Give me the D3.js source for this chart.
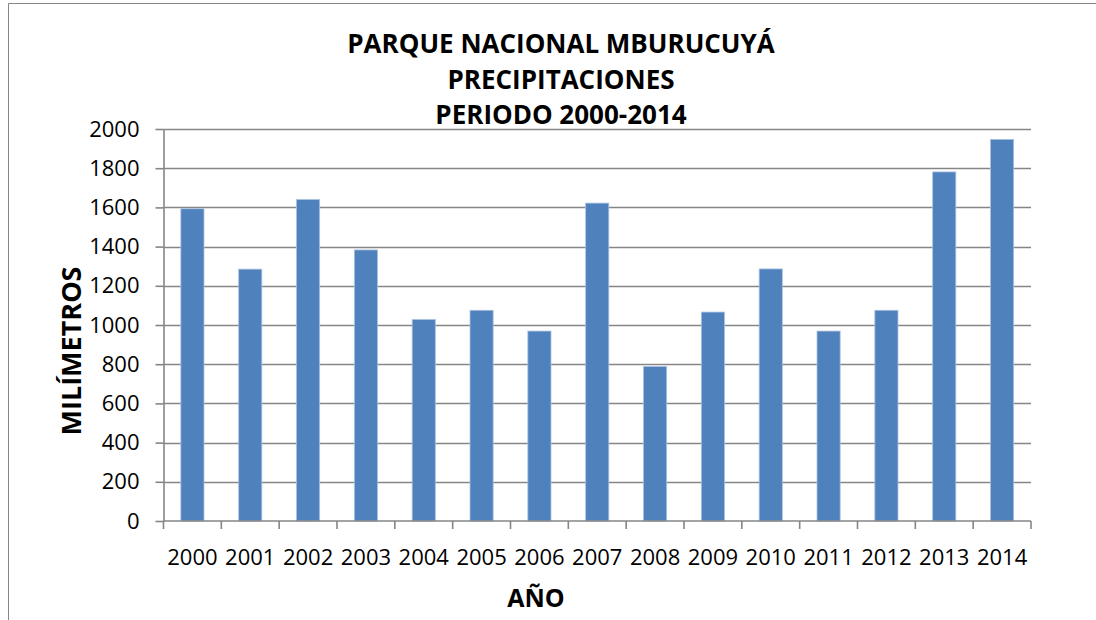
<!DOCTYPE html>
<html>
<head>
<meta charset="utf-8">
<script src="https://cdn.jsdelivr.net/npm/d3@7"></script>
<style>
  body { margin: 0; background: white; overflow: hidden; }
  text { font-family: "Open Sans", Calibri, sans-serif; fill: #000; }
</style>
</head>
<body>
<svg id="chart"></svg>
<script>
// Precipitaciones anuales, Parque Nacional Mburucuyá
var years = ["2000", "2001", "2002", "2003", "2004", "2005", "2006", "2007",
             "2008", "2009", "2010", "2011", "2012", "2013", "2014"];
var rainfall = [1593, 1285, 1640, 1383, 1028, 1075, 969, 1622,
                788, 1066, 1286, 969, 1075, 1781, 1947];
var yTicks = [0, 200, 400, 600, 800, 1000, 1200, 1400, 1600, 1800, 2000];
var titleLines = ["PARQUE NACIONAL MBURUCUYÁ", "PRECIPITACIONES", "PERIODO 2000-2014"];

var dimensions = {
    width: 1096,
    height: 620,
    margin: {
        top: 129,
        bottom: 99,
        right: 65,
        left: 163.5
    }
}

var svg = d3.select("#chart")
    .attr("width", dimensions.width)
    .attr("height", dimensions.height)
    .style("display", "block");

// chart area border: only left and top edges show, the rest is cropped
svg.append("path")
    .attr("d", `M8.5,${dimensions.height} V3.5 H${dimensions.width}`)
    .attr("fill", "none")
    .attr("stroke", "#868686")
    .attr("stroke-width", 1);

var xScale = d3.scaleBand()
    .domain(years)
    .range([dimensions.margin.left, dimensions.width - dimensions.margin.right])
    .paddingInner(0.6)
    .paddingOuter(0.3);

var yScale = d3.scaleLinear()
    .domain([0, 2000])
    .range([dimensions.height - dimensions.margin.bottom, dimensions.margin.top]);

var gridColor = "#868686";

// gridlines
svg.append("g")
    .selectAll("line")
    .data(yTicks.filter(d => d > 0))
    .enter()
    .append("line")
    .attr("x1", dimensions.margin.left)
    .attr("x2", dimensions.width - dimensions.margin.right)
    .attr("y1", d => Math.round(yScale(d)) + 0.5)
    .attr("y2", d => Math.round(yScale(d)) + 0.5)
    .attr("stroke", gridColor)
    .attr("stroke-width", 1.6);

// bars
svg.selectAll(".bar")
    .data(rainfall)
    .enter()
    .append("rect")
    .attr("class", "bar")
    .attr("x", (d, i) => xScale(years[i]))
    .attr("y", d => yScale(d))
    .attr("width", xScale.bandwidth())
    .attr("height", d => yScale(0) - yScale(d))
    .attr("fill", "#4f81bd")
    .attr("stroke", "#a9c1e0")
    .attr("stroke-width", 0.8);

// y axis
var yAxis = svg.append("g")
    .attr("transform", `translate(${dimensions.margin.left},0)`)
    .call(d3.axisLeft(yScale)
        .tickValues(yTicks)
        .tickFormat(d3.format("d"))
        .tickSize(8)
        .tickPadding(16)
        .tickSizeOuter(0));

yAxis.selectAll("line").attr("stroke", gridColor).attr("stroke-width", 1.6);
yAxis.select(".domain").attr("stroke", gridColor).attr("stroke-width", 1.6);
yAxis.selectAll("text")
    .style("font-family", "'Open Sans', sans-serif")
    .style("font-size", "22px")
    .attr("fill", "#000");

// x axis: ticks between categories
var xAxis = svg.append("g")
    .attr("transform", `translate(0,${yScale(0)})`);

xAxis.append("line")
    .attr("x1", dimensions.margin.left)
    .attr("x2", dimensions.width - dimensions.margin.right)
    .attr("stroke", gridColor)
    .attr("stroke-width", 1.6);

var step = xScale.step();
xAxis.selectAll(".xtick")
    .data(d3.range(years.length + 1))
    .enter()
    .append("line")
    .attr("class", "xtick")
    .attr("x1", i => dimensions.margin.left + i * step)
    .attr("x2", i => dimensions.margin.left + i * step)
    .attr("y1", 0)
    .attr("y2", 8)
    .attr("stroke", gridColor)
    .attr("stroke-width", 1.6);

xAxis.selectAll(".xlabel")
    .data(years)
    .enter()
    .append("text")
    .attr("class", "xlabel")
    .attr("x", d => xScale(d) + xScale.bandwidth() / 2)
    .attr("y", 44)
    .attr("text-anchor", "middle")
    .style("font-size", "22px")
    .text(d => d);

// title
svg.append("g")
    .selectAll("text")
    .data(titleLines)
    .enter()
    .append("text")
    .attr("x", 561)
    .attr("y", (d, i) => 53 + i * 35.5)
    .attr("text-anchor", "middle")
    .style("font-size", "26px")
    .style("font-weight", "bold")
    .text(d => d);

// axis titles
svg.append("text")
    .attr("text-anchor", "middle")
    .attr("x", 536)
    .attr("y", 607)
    .style("font-size", "25px")
    .style("font-weight", "bold")
    .text("AÑO");

svg.append("text")
    .attr("text-anchor", "middle")
    .attr("transform", "translate(81,351) rotate(-90)")
    .style("font-size", "27px")
    .style("font-weight", "bold")
    .text("MILÍMETROS");
</script>
</body>
</html>
